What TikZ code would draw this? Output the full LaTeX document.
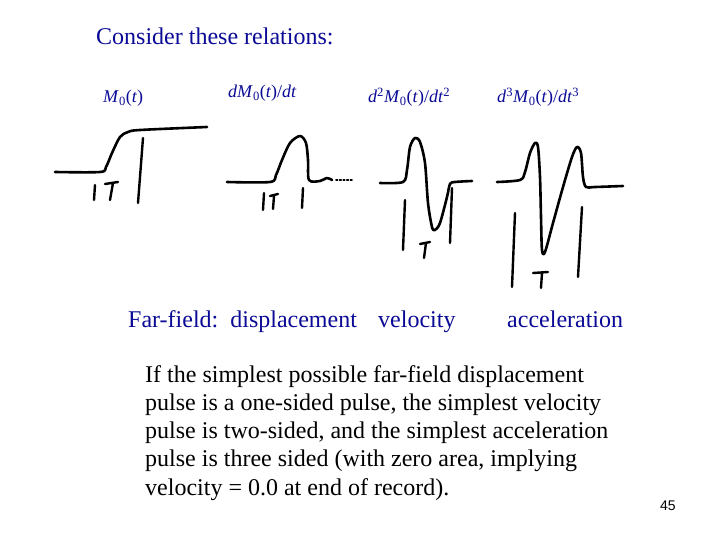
\documentclass[tikz,border=0pt]{standalone}
\usepackage{fontspec}
\setmainfont{Liberation Serif}
\newfontfamily\pagefont{Liberation Sans}
\usepackage{xcolor}
\usepackage{tikz}
\usetikzlibrary{positioning}
\definecolor{slideblue}{RGB}{10,10,150}
\newcommand{\Mnull}{\textit{M}\textsubscript{0}(\textit{t})}

\begin{document}
\begin{tikzpicture}[x=1pt, y=-1pt,
    pen/.style={line width=2.6pt, line cap=round, line join=round},
    tick/.style={line width=2.4pt, line cap=round},
    bluetxt/.style={text=slideblue, inner sep=0pt, anchor=base west, font=\fontsize{24}{28}\selectfont},
    lbl/.style={text=slideblue, inner sep=0pt, anchor=base west, font=\fontsize{18}{22}\selectfont},
    body/.style={text=black, inner sep=0pt, anchor=base west, font=\fontsize{24}{28}\selectfont}]
    \useasboundingbox (0,0) rectangle (720,540);

    % Titles
    \node[bluetxt] (cons) at (96,45) {Consider these relations:};
    \node[lbl] (lab0) at (103,103) {\Mnull};
    \node[lbl] (lab1) at (228,98) {\textit{d}\Mnull/\textit{dt}};
    \node[lbl] (lab2) at (368,103) {\textit{d}\textsuperscript{2}\Mnull/\textit{dt}\textsuperscript{2}};
    \node[lbl] (lab3) at (497,103) {\textit{d}\textsuperscript{3}\Mnull/\textit{dt}\textsuperscript{3}};

    % Displacement
    \draw[pen] plot[smooth, tension=0.5] coordinates {(55,172) (100,172) (106,167) (112,153) (120,137) (128,132) (140,130) (207,127)};
    \draw[tick] (143,138) -- (138,203);
    \draw[tick] (95,185) -- (94,200);
    \draw[tick] (105,184) -- (118,182) (113,183) -- (110,200);

    % Velocity
    \draw[pen] plot[smooth, tension=0.5] coordinates {(227,182) (270,182) (276,175) (282,160) (290,143) (300,136) (306,143) (308,160) (309,180) (320,181) (327,178) (332,180)};
    \draw[line width=1.6pt, dotted, line cap=round] (336,180) -- (352,180);
    \draw[tick] (264,193) -- (263,210);
    \draw[tick] (270,196) -- (278,194) (274,196) -- (273,209);
    \draw[tick] (303,188) -- (302,208);

    % Acceleration
    \draw[pen] plot[smooth, tension=0.5] coordinates {(380,183) (403,182) (407,170) (410,147) (415,138) (420,142) (425,163) (428,203) (432,227) (435,230) (440,223) (447,197) (450,184) (455,182) (472,181)};
    \draw[tick] (405,200) -- (403,250);
    \draw[tick] (452,188) -- (450,243);
    \draw[tick] (420,244) -- (430,242) (426,243) -- (424,258);

    % Third derivative
    \draw[pen] plot[smooth, tension=0.5] coordinates {(497,182) (520,180) (525,172) (530,153) (535,143) (538,147) (540,177) (541,217) (542,250) (545,252) (553,223) (563,187) (572,157) (577,147) (581,153) (583,177) (586,187) (595,187) (623,186)};
    \draw[tick] (515,213) -- (512,287);
    \draw[tick] (582,207) -- (578,277);
    \draw[tick] (533,273) -- (548,272) (542,273) -- (541,288);

    % Far-field row
    \node[bluetxt] (ff) at (128,327) {Far-field:\ \ displacement};
    \node[bluetxt] (vel) at (378,327) {velocity};
    \node[bluetxt] (acc) at (507,327) {acceleration};

    % Paragraph
    \node[body] (par1) at (145,382) {If the simplest possible far-field displacement};
    \node[body] (par2) at (145,410.25) {pulse is a one-sided pulse, the simplest velocity};
    \node[body] (par3) at (145,438.5) {pulse is two-sided, and the simplest acceleration};
    \node[body] (par4) at (145,466.75) {pulse is three sided (with zero area, implying};
    \node[body] (par5) at (145,495) {velocity = 0.0 at end of record).};

    \node[inner sep=0pt, anchor=base west, font=\pagefont\fontsize{14}{16}\selectfont] (pg) at (660,510) {45};
\end{tikzpicture}
\end{document}
